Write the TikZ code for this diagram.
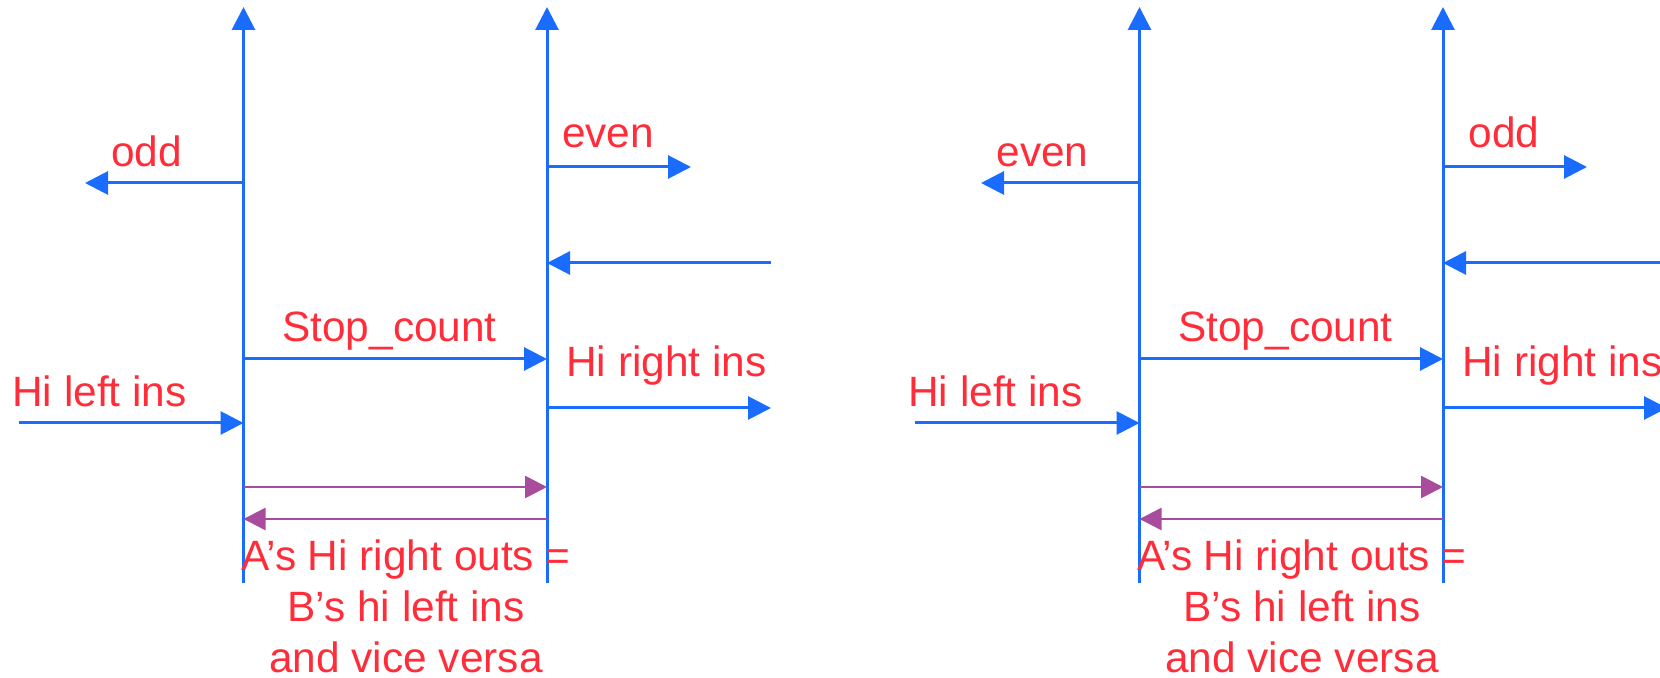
\documentclass[tikz,border=0pt]{standalone}
\usepackage{fontspec}
\setmainfont{Liberation Sans}
\usetikzlibrary{arrows.meta}
\definecolor{sigblue}{RGB}{26,108,255}
\definecolor{sigred}{RGB}{255,45,58}
\definecolor{sigpurple}{RGB}{168,77,157}
\begin{document}
\begin{tikzpicture}[x=0.5pt,y=-0.5pt,
  sig/.style={sigblue,line width=1.5pt,-{Triangle[length=11.5pt,width=11.5pt]}},
  loopsig/.style={sigpurple,line width=1.3pt,-{Triangle[length=11pt,width=11pt]}},
  lbl/.style={text=sigred,font=\fontsize{21.2}{25}\selectfont,inner sep=0pt,anchor=base}]
\useasboundingbox (0,0) rectangle (1660,678);
\clip (0,0) rectangle (1660,678);
\foreach \dx/\p/\lo/\ro in {0/L/odd/even,896/R/even/odd}{
\begin{scope}[shift={(\dx,0)}]
  % two cell boundaries
  \coordinate (\p Abot) at (243.5,583);
  \coordinate (\p Atop) at (243.5,7);
  \coordinate (\p Bbot) at (547,583);
  \coordinate (\p Btop) at (547,7);
  \draw[sig] (\p Abot) -- (\p Atop);
  \draw[sig] (\p Bbot) -- (\p Btop);
  % parity outputs
  \coordinate (\p loS) at (243.5,183);
  \coordinate (\p loE) at (85,183);
  \draw[sig] (\p loS) -- (\p loE);
  \coordinate (\p roS) at (547,167);
  \coordinate (\p roE) at (691,167);
  \draw[sig] (\p roS) -- (\p roE);
  % input from the right
  \coordinate (\p inS) at (771,263);
  \coordinate (\p inE) at (547,263);
  \draw[sig] (\p inS) -- (\p inE);
  % stop count
  \coordinate (\p scS) at (243.5,359);
  \coordinate (\p scE) at (547,359);
  \draw[sig] (\p scS) -- (\p scE);
  % hi right ins
  \coordinate (\p hrS) at (547,408);
  \coordinate (\p hrE) at (771,408);
  \draw[sig] (\p hrS) -- (\p hrE);
  % hi left ins
  \coordinate (\p hlS) at (19,423);
  \coordinate (\p hlE) at (243.5,423);
  \draw[sig] (\p hlS) -- (\p hlE);
  % exchange between the cells
  \coordinate (\p xaS) at (243.5,487);
  \coordinate (\p xaE) at (547,487);
  \draw[loopsig] (\p xaS) -- (\p xaE);
  \coordinate (\p xbS) at (547,519);
  \coordinate (\p xbE) at (243.5,519);
  \draw[loopsig] (\p xbS) -- (\p xbE);
  % labels
  \node[lbl] (\p lolbl) at (146.5,167) {\lo};
  \node[lbl] (\p rolbl) at (608,148) {\ro};
  \node[lbl] (\p sclbl) at (389.5,342) {Stop\_count};
  \node[lbl] (\p hrlbl) at (666.5,377) {Hi right ins};
  \node[lbl] (\p hllbl) at (99.5,407) {Hi left ins};
  \node[lbl] (\p n1) at (406,570) {A’s Hi right outs =};
  \node[lbl] (\p n2) at (406,621) {B’s hi left ins};
  \node[lbl] (\p n3) at (406,672) {and vice versa};
\end{scope}
}
\end{tikzpicture}
\end{document}
